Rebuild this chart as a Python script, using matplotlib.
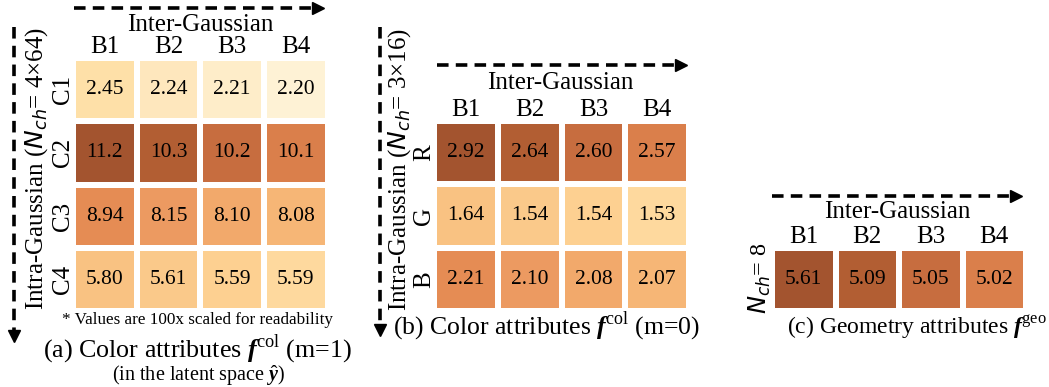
import numpy as np
import matplotlib
matplotlib.use("Agg")
import matplotlib.pyplot as plt
from matplotlib.colors import ListedColormap

plt.rcParams["font.family"] = "Liberation Serif"
plt.rcParams["mathtext.fontset"] = "custom"
plt.rcParams["mathtext.rm"] = "Liberation Serif"
plt.rcParams["mathtext.it"] = "DejaVu Sans:italic"
plt.rcParams["mathtext.bf"] = "Liberation Serif:bold"
plt.rcParams["mathtext.bfit"] = "Liberation Serif:italic:bold"

# Data
cols = ["B1", "B2", "B3", "B4"]
rows_a = ["C1", "C2", "C3", "C4"]
vals_a = [[2.45, 2.24, 2.21, 2.20],
          [11.2, 10.3, 10.2, 10.1],
          [8.94, 8.15, 8.10, 8.08],
          [5.80, 5.61, 5.59, 5.59]]
rows_b = ["R", "G", "B"]
vals_b = [[2.92, 2.64, 2.60, 2.57],
          [1.64, 1.54, 1.54, 1.53],
          [2.21, 2.10, 2.08, 2.07]]
rows_c = [""]
vals_c = [[5.61, 5.09, 5.05, 5.02]]

# palette by rank, darkest first
palette = ["#A3542F", "#B25E33", "#C76D3F", "#DA7F4B",
           "#E58C54", "#EC9A61", "#F2A96B", "#F6B676",
           "#F9C282", "#FAC98A", "#FDD091", "#FED99E",
           "#FEE0A8", "#FEE7BD", "#FEEDC9", "#FEF2D5"]
cmap = ListedColormap(palette)

W, H = 1049, 387
fig = plt.figure(figsize=(W / 100, H / 100), dpi=100)

# overlay for text and arrows, pixel coords
ov = fig.add_axes([0, 0, 1, 1])
ov.set_xlim(0, W)
ov.set_ylim(H, 0)
ov.axis("off")


def fmt(v):
    return f"{v:.1f}" if v >= 10 else f"{v:.2f}"


def heat(vals, rows, x0, x1, y0, y1):
    v = np.array(vals)
    order = np.argsort(-v.ravel(), kind="stable")
    rank = np.empty(v.size, dtype=int)
    rank[order] = np.arange(v.size)
    rank = rank.reshape(v.shape)
    ax = fig.add_axes([x0 / W, 1 - y1 / H, (x1 - x0) / W, (y1 - y0) / H])
    ax.pcolormesh(rank, cmap=cmap, vmin=-0.5, vmax=15.5,
                  edgecolors="white", linewidth=4.3)
    ax.set_xlim(0, v.shape[1])
    ax.set_ylim(v.shape[0], 0)
    ax.axis("off")
    for i in range(v.shape[0]):
        for j in range(v.shape[1]):
            ax.text(j + 0.5, i + 0.5, fmt(v[i, j]), ha="center", va="center",
                    fontsize=15.5)
    # labels in pixel coords
    cw = (x1 - x0) / v.shape[1]
    rh = (y1 - y0) / v.shape[0]
    for j, c in enumerate(cols):
        ov.text(x0 + cw * (j + 0.5), y0 - 11, c, ha="center", va="center",
                fontsize=18)
    for i, r in enumerate(rows):
        ov.text(x0 - 10, y0 + rh * (i + 0.5), r, ha="center", va="center",
                rotation=90, fontsize=18)
    return ax


def harrow(x0, x1, y):
    ov.plot([x0, x1 - 6], [y, y], color="black", lw=2.6, linestyle=(0, (3.2, 2)))
    ov.plot([x1 - 4], [y], marker=">", color="black", markersize=8)


def varrow(x, y0, y1):
    ov.plot([x, x], [y0, y1 - 6], color="black", lw=2.6, linestyle=(0, (3.2, 2)))
    ov.plot([x], [y1 - 4], marker="v", color="black", markersize=8)


#Panel (a)
heat(vals_a, rows_a, 73, 327.5, 58, 311)
harrow(74, 322, 8)
ov.text(200, 25, "Inter-Gaussian", ha="center", va="center", fontsize=18)
varrow(14, 27, 340)
ov.text(37, 168, r"Intra-Gaussian ($N_{ch}$= 4×64)", ha="center", va="center",
        rotation=90, fontsize=18)
ov.text(197, 320, "* Values are 100x scaled for readability", ha="center",
        va="center", fontsize=12.3)
ov.text(197, 349, r"(a) Color attributes $\mathbfit{f}^{\mathrm{col}}$ (m=1)",
        ha="center", va="center", fontsize=18.7)
ov.text(199, 376, r"(in the latent space $\hat{\mathbfit{y}}$)", ha="center",
        va="center", fontsize=14.5)

#Panel (b)
heat(vals_b, rows_b, 434, 689, 121, 311)
harrow(437, 685, 65)
ov.text(560, 83, "Inter-Gaussian", ha="center", va="center", fontsize=18)
varrow(380, 27, 334)
ov.text(400, 169, r"Intra-Gaussian ($N_{ch}$= 3×16)", ha="center", va="center",
        rotation=90, fontsize=18)
ov.text(547, 326, r"(b) Color attributes $\mathbfit{f}^{\mathrm{col}}$ (m=0)",
        ha="center", va="center", fontsize=18.5)

#Panel (c)
heat(vals_c, rows_c, 772, 1026, 248, 311)
harrow(772, 1020, 196)
ov.text(897, 212, "Inter-Gaussian", ha="center", va="center", fontsize=18)
ov.text(760, 278, r"$N_{ch}$= 8", ha="center", va="center", rotation=90,
        fontsize=17.5)
ov.text(917, 327, r"(c) Geometry attributes $\mathbfit{f}^{\mathrm{geo}}$",
        ha="center", va="center", fontsize=17)

fig.savefig("out.png", dpi=100)
